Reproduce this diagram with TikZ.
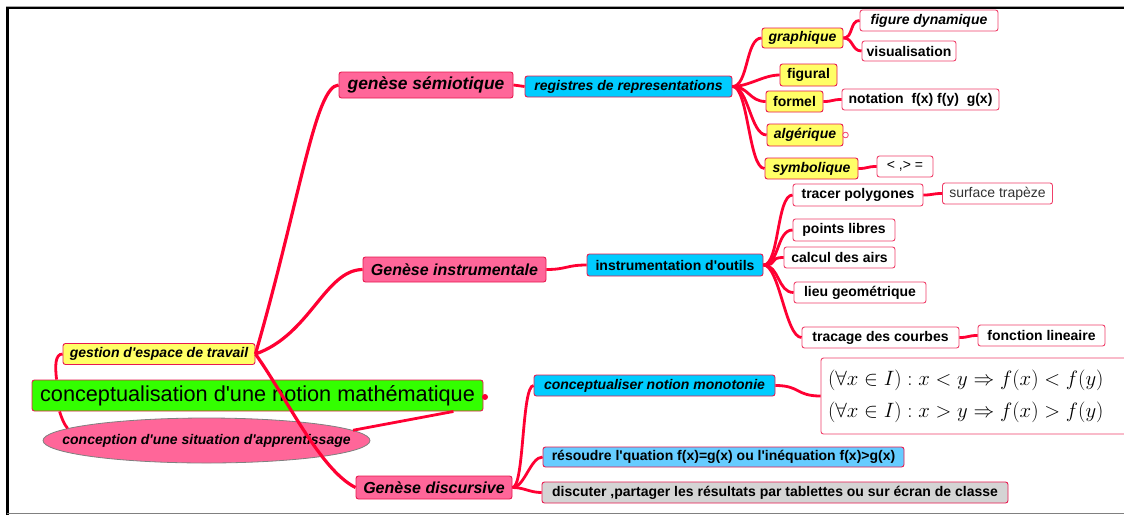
\documentclass[tikz,border=0pt]{standalone}
\usepackage{fontspec}
\setmainfont{Liberation Sans}[Ligatures=TeXOff]
\usetikzlibrary{shapes.geometric,calc}
\definecolor{conn}{HTML}{FF0033}
\definecolor{pinkf}{HTML}{FF6699}
\definecolor{bord}{HTML}{E8194F}
\definecolor{yel}{HTML}{FFFF66}
\definecolor{cya}{HTML}{00CCFF}
\definecolor{lblue}{HTML}{66CCFF}
\definecolor{gry}{HTML}{D4D4D4}
\definecolor{grn}{HTML}{33FF00}
\definecolor{wbord}{HTML}{F0406A}
\begin{document}
\begin{tikzpicture}[x=1pt,y=-1pt,
  nbox/.style={draw=bord, line width=0.9pt, rounded corners=2.5pt, inner sep=0pt, align=center},
  fb/.style={font=\fontsize{14}{16}\selectfont\bfseries},
  fbi/.style={font=\fontsize{14}{16}\selectfont\bfseries\itshape},
  fn/.style={font=\fontsize{14}{16}\selectfont},
  pinkbox/.style={nbox, fill=pinkf},
  yelbox/.style={nbox, fill=yel},
  cyanbox/.style={nbox, fill=cya},
  whitebox/.style={nbox, draw=wbord, fill=white},
  link/.style={draw=conn, line width=2.8pt},
  mainlink/.style={draw=conn, line width=3.2pt},
  sz/.style n args={2}{minimum width=#1pt, minimum height=#2pt}
]
\useasboundingbox (0,0) rectangle (1124,515);
\fill[white] (0,0) rectangle (1124,515);
% frame
\draw[gray!70, line width=1pt] (6,6) -- (1124,6);
\draw[black, line width=2.4pt] (7.5,515) -- (7.5,8) -- (1124,8);
\draw[gray, line width=1pt] (7,513.5) -- (1124,513.5);

% nodes
\node[nbox, fill=grn, sz={451}{31}, font=\fontsize{21.7}{24}\selectfont] (root) at (257.5,395.5) {conceptualisation d'une notion mathématique};
\node[yelbox, fbi, sz={192}{21}] (gest) at (159,354) {gestion d'espace de travail};
\node[ellipse, fill=pinkf, draw=gray, line width=0.8pt, inner xsep=-40pt, inner ysep=0pt, sz={327}{45}, fbi] (ell) at (206.5,440.5) {conception d'une situation d'apprentissage};

\node[pinkbox, sz={174}{26}, font=\fontsize{17.4}{20}\selectfont\bfseries\itshape] (sem) at (426,85) {genèse sémiotique};
\node[cyanbox, fbi, sz={207}{21}] (reg) at (628.5,86.5) {registres de representations};
\node[yelbox, fbi, sz={81}{20}] (graph) at (802.5,38) {graphique};
\node[yelbox, fb, sz={57}{22}] (figural) at (808.5,75) {figural};
\node[yelbox, fb, sz={57}{21}] (formel) at (794.5,101.5) {formel};
\node[yelbox, fbi, sz={76}{22}] (alg) at (805,135) {algérique};
\node[yelbox, fbi, sz={93}{21}] (symb) at (811.5,168.5) {symbolique};
\node[whitebox, fbi, sz={138}{21}] (figdyn) at (929,20.5) {figure dynamique};
\node[whitebox, fb, sz={94}{20}] (visu) at (909,51) {visualisation};
\node[whitebox, fb, sz={157}{21}] (nota) at (920.5,99.5) {notation~ f(x) f(y)~ g(x)};
\node[whitebox, fn, sz={56}{21}] (cmp) at (905,166.5) {< ,> =};

\node[pinkbox, sz={183}{25}, font=\fontsize{16}{18}\selectfont\bfseries\itshape] (instr) at (454.5,269.5) {Genèse instrumentale};
\node[cyanbox, fb, sz={176}{22}] (outils) at (675,265) {instrumentation d'outils};
\node[whitebox, fb, sz={130}{22}] (trac) at (858,195) {tracer polygones};
\node[whitebox, fn, sz={110}{21}, text=black!80] (surf) at (997.5,193.5) {surface trapèze};
\node[whitebox, fb, sz={102}{22}] (pts) at (844,230) {points libres};
\node[whitebox, fb, sz={111}{21}] (calc) at (839.5,257.5) {calcul des airs};
\node[whitebox, fb, sz={132}{21}] (lieu) at (860,292.5) {lieu geométrique};
\node[whitebox, fb, sz={157}{21}] (courb) at (880.5,337.5) {tracage des courbes};
\node[whitebox, fb, sz={127}{21}] (fonc) at (1041.5,335.5) {fonction lineaire};

\node[pinkbox, sz={156}{23}, font=\fontsize{16}{18}\selectfont\bfseries\itshape] (disc) at (434,487.5) {Genèse discursive};
\node[cyanbox, fbi, sz={241}{21}] (mono) at (654.5,385.5) {conceptualiser notion monotonie};
\node[whitebox, sz={308}{76}, text width=294pt, align=left, font=\fontsize{20.6}{32}\selectfont] (math) at (975,396) {$(\forall x\in I): x<y\Rightarrow f(x)<f(y)$\\$(\forall x\in I): x>y\Rightarrow f(x)>f(y)$};
\node[nbox, fill=lblue, fb, sz={361}{20}] (res) at (723.5,457) {résoudre l'quation f(x)=g(x) ou l'inéquation f(x)>g(x)};
\node[nbox, fill=gry, fb, sz={466}{21}] (dis) at (775,492.5) {discuter ,partager les résultats par tablettes ou sur écran de classe};

% connectors from root
\draw[link] ($(root.north west)+(25,0)$) .. controls (55,366) and (55,354) .. (gest.west);
\draw[link] ($(root.south west)+(28,0)$) .. controls (62,419) and (64,424) .. (ell.175);
\draw[link] ($(root.south east)+(-30,0)$) -- (ell.4);
\fill[conn] (485,397) circle (3);

% from gestion
\draw[mainlink] (gest.east) .. controls (300,200) and (315,86) .. (sem.west);
\draw[mainlink] (gest.east) .. controls (310,335) and (325,270) .. (instr.west);
\draw[mainlink] (gest.east) .. controls (285,395) and (320,470) .. (disc.west);

% semiotique branch
\draw[link] (sem.east) -- (reg.west);
\foreach \c in {graph,figural,formel,alg,symb}
  \draw[link] (reg.east) .. controls +(16,0) and +(-16,0) .. (\c.west);
\draw[link] (graph.east) .. controls +(10,0) and +(-10,0) .. (figdyn.west);
\draw[link] (graph.east) .. controls +(10,0) and +(-10,0) .. (visu.west);
\draw[link] (formel.east) .. controls +(10,0) and +(-10,0) .. (nota.west);
\draw[link] (symb.east) .. controls +(10,0) and +(-10,0) .. (cmp.west);
\draw[wbord, fill=white, line width=0.8pt] (845.5,135) circle (2.8);

% instrumentale branch
\draw[link] (instr.east) .. controls +(20,0) and +(-20,0) .. (outils.west);
\foreach \c in {trac,pts,calc,lieu,courb}
  \draw[link] (outils.east) .. controls +(16,0) and +(-16,0) .. (\c.west);
\draw[link] (trac.east) .. controls +(10,0) and +(-10,0) .. (surf.west);
\draw[link] (courb.east) .. controls +(10,0) and +(-10,0) .. (fonc.west);

% discursive branch
\foreach \c in {mono,res,dis}
  \draw[link] (disc.east) .. controls +(12,0) and +(-12,0) .. (\c.west);
\draw[link] (mono.east) .. controls +(25,0) and +(-25,0) .. (math.west);
\end{tikzpicture}
\end{document}
